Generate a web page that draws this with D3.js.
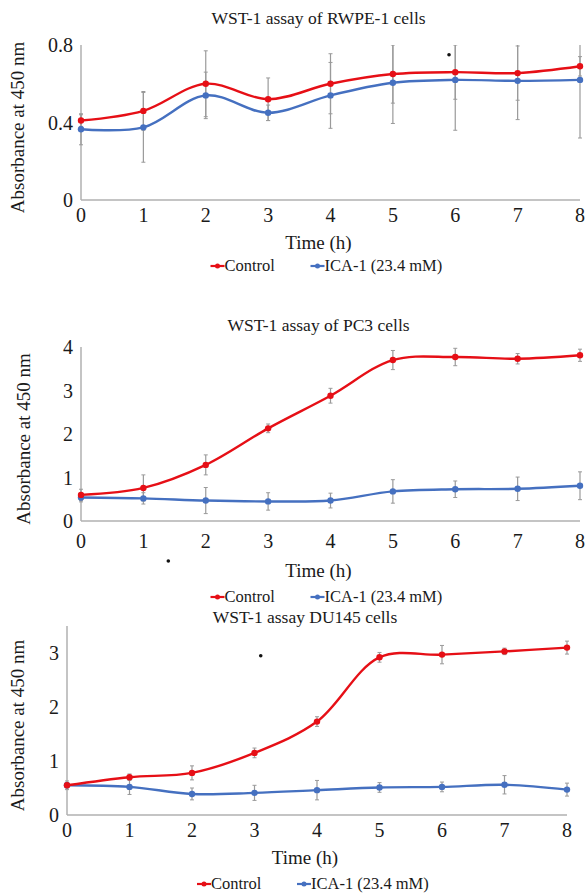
<!DOCTYPE html>
<html>
<head>
<meta charset="utf-8">
<script src="https://cdn.jsdelivr.net/npm/d3@7"></script>
<style>
  body { margin: 0; background: #fff; }
</style>
</head>
<body>
<div id="chart"></div>
<script>
// time points (h)
const hours = [0, 1, 2, 3, 4, 5, 6, 7, 8];

// RWPE-1
const controlRWPE = [0.41, 0.46, 0.60, 0.52, 0.60, 0.65, 0.66, 0.655, 0.69];
const icaRWPE = [0.365, 0.375, 0.54, 0.45, 0.54, 0.605, 0.62, 0.615, 0.62];
const controlRWPEErr = [0.03, 0.10, 0.17, 0.11, 0.155, 0.15, 0.14, 0.14, 0.05];
const icaRWPEErr = [0.08, 0.18, 0.12, 0.04, 0.17, 0.21, 0.26, 0.20, 0.30];

// PC3
const controlPC3 = [0.60, 0.76, 1.29, 2.13, 2.88, 3.70, 3.77, 3.73, 3.81];
const icaPC3 = [0.54, 0.52, 0.47, 0.45, 0.47, 0.68, 0.73, 0.74, 0.81];
const controlPC3Err = [0.13, 0.30, 0.23, 0.10, 0.17, 0.22, 0.20, 0.12, 0.14];
const icaPC3Err = [0.10, 0.13, 0.30, 0.20, 0.17, 0.27, 0.19, 0.27, 0.32];

// DU145
const controlDU = [0.55, 0.70, 0.78, 1.15, 1.73, 2.92, 2.97, 3.03, 3.10];
const icaDU = [0.55, 0.52, 0.39, 0.41, 0.46, 0.51, 0.52, 0.56, 0.47];
const controlDUErr = [0.05, 0.06, 0.13, 0.09, 0.09, 0.09, 0.17, 0.06, 0.12];
const icaDUErr = [0.08, 0.14, 0.11, 0.14, 0.18, 0.09, 0.09, 0.17, 0.12];

const seriesNames = ["Control", "ICA-1 (23.4 mM)"];

const colors = {
    control: "#e60f16",
    ica: "#4570c0",
    axis: "#b0b0b0",
    err: "#9a9a9a",
    text: "#1a1a1a",
};

const width = 587;
const height = 896;
const serif = '"Liberation Serif"';

const svg = d3
    .select("#chart")
    .append("svg")
    .attr("width", width)
    .attr("height", height);

const panels = [
    {
        title: "WST-1 assay of RWPE-1 cells",
        control: controlRWPE, ica: icaRWPE,
        controlErr: controlRWPEErr, icaErr: icaRWPEErr,
        yMax: 0.8, yTicks: [0, 0.4, 0.8], fmt: d3.format(".1~f"),
        left: 81, right: 580, top: 45, bottom: 200,
        titleY: 24, tickOff: 22, timeOff: 49, legendOff: 71, yLabelX: 24,
        dot: [5.9, 0.75],
    },
    {
        title: "WST-1 assay of PC3 cells",
        control: controlPC3, ica: icaPC3,
        controlErr: controlPC3Err, icaErr: icaPC3Err,
        yMax: 4, yTicks: [0, 1, 2, 3, 4], fmt: d3.format("d"),
        left: 81, right: 580, top: 347, bottom: 521,
        titleY: 331, tickOff: 27, timeOff: 56, legendOff: 81, yLabelX: 30,
        dot: [1.4, -0.92],
    },
    {
        title: "WST-1 assay DU145 cells",
        control: controlDU, ica: icaDU,
        controlErr: controlDUErr, icaErr: icaDUErr,
        yMax: 3.5, yTicks: [0, 1, 2, 3], fmt: d3.format("d"),
        left: 67, right: 567, top: 626, bottom: 815,
        titleY: 623, tickOff: 22, timeOff: 49, legendOff: 74, yLabelX: 24,
        dot: [3.1, 2.95],
    },
];

const addText = (sel, size) =>
    sel.style("font-family", serif)
        .attr("font-size", size)
        .attr("fill", colors.text);

const drawPanel = (p, idx) => {
    const g = svg.append("g");
    const x = d3.scaleLinear().domain([0, 8]).range([p.left, p.right]);
    const y = d3.scaleLinear().domain([0, p.yMax]).range([p.bottom, p.top]);
    const cx = (p.left + p.right) / 2;

    const clipId = "clip" + idx;
    svg.append("clipPath").attr("id", clipId)
        .append("rect")
        .attr("x", p.left - 10).attr("y", p.top)
        .attr("width", p.right - p.left + 20).attr("height", p.bottom - p.top);

    // title
    addText(g.append("text"), 17.5)
        .attr("x", cx - 12).attr("y", p.titleY)
        .attr("text-anchor", "middle")
        .text(p.title);

    // axes lines
    g.append("line")
        .attr("x1", p.left).attr("x2", p.left)
        .attr("y1", p.top).attr("y2", p.bottom)
        .attr("stroke", colors.axis).attr("stroke-width", 1.5);
    g.append("line")
        .attr("x1", p.left).attr("x2", p.right)
        .attr("y1", p.bottom).attr("y2", p.bottom)
        .attr("stroke", colors.axis).attr("stroke-width", 1.5);

    // x tick labels
    addText(g.selectAll(".xt").data(hours).enter().append("text"), 20)
        .attr("x", (d) => x(d))
        .attr("y", p.bottom + p.tickOff)
        .attr("text-anchor", "middle")
        .text((d) => d);

    // y tick labels
    addText(g.selectAll(".yt").data(p.yTicks).enter().append("text"), 20)
        .attr("x", p.left - 8)
        .attr("y", (d) => y(d) + 7)
        .attr("text-anchor", "end")
        .text((d) => p.fmt(d));

    // axis titles
    addText(g.append("text"), 19)
        .attr("x", cx - 12).attr("y", p.bottom + p.timeOff)
        .attr("text-anchor", "middle")
        .text("Time (h)");
    addText(g.append("text"), 19)
        .attr("transform", `translate(${p.yLabelX}, ${(p.top + p.bottom) / 2 + 5}) rotate(-90)`)
        .attr("text-anchor", "middle")
        .text("Absorbance at 450 nm");

    const series = [
        { vals: p.control, err: p.controlErr, color: colors.control },
        { vals: p.ica, err: p.icaErr, color: colors.ica },
    ];

    // error bars
    const eg = g.append("g").attr("clip-path", `url(#${clipId})`);
    series.forEach((s) => {
        hours.forEach((h, i) => {
            const hi = y(s.vals[i] + s.err[i]);
            const lo = y(s.vals[i] - s.err[i]);
            eg.append("line")
                .attr("x1", x(h)).attr("x2", x(h))
                .attr("y1", hi).attr("y2", lo)
                .attr("stroke", colors.err).attr("stroke-width", 1.2);
            [hi, lo].forEach((yy) => {
                eg.append("line")
                    .attr("x1", x(h) - 2).attr("x2", x(h) + 2)
                    .attr("y1", yy).attr("y2", yy)
                    .attr("stroke", colors.err).attr("stroke-width", 1);
            });
        });
    });

    // smoothed lines + markers
    const line = d3
        .line()
        .x((d, i) => x(hours[i]))
        .y((d) => y(d))
        .curve(d3.curveCatmullRom.alpha(0.5));

    series.slice().reverse().forEach((s) => {
        g.append("path")
            .datum(s.vals)
            .attr("d", line)
            .attr("fill", "none")
            .attr("stroke", s.color)
            .attr("stroke-width", 2.4);
        g.selectAll(null).data(s.vals).enter().append("circle")
            .attr("cx", (d, i) => x(hours[i]))
            .attr("cy", (d) => y(d))
            .attr("r", 3.2)
            .attr("fill", s.color);
    });

    // stray dot from the source figure
    g.append("circle")
        .attr("cx", x(p.dot[0])).attr("cy", y(p.dot[1]))
        .attr("r", 1.8).attr("fill", "#111");

    // legend
    const ly = p.bottom + p.legendOff;
    const legendItems = [
        { name: seriesNames[0], color: colors.control, x: cx - 120 },
        { name: seriesNames[1], color: colors.ica, x: cx - 20 },
    ];
    legendItems.forEach((it) => {
        g.append("line")
            .attr("x1", it.x).attr("x2", it.x + 14)
            .attr("y1", ly - 5).attr("y2", ly - 5)
            .attr("stroke", it.color).attr("stroke-width", 2.2);
        g.append("circle")
            .attr("cx", it.x + 7).attr("cy", ly - 5)
            .attr("r", 2.5).attr("fill", it.color);
        addText(g.append("text"), 16.5)
            .attr("x", it.x + 14).attr("y", ly)
            .text(it.name);
    });
};

panels.forEach(drawPanel);
</script>
</body>
</html>
